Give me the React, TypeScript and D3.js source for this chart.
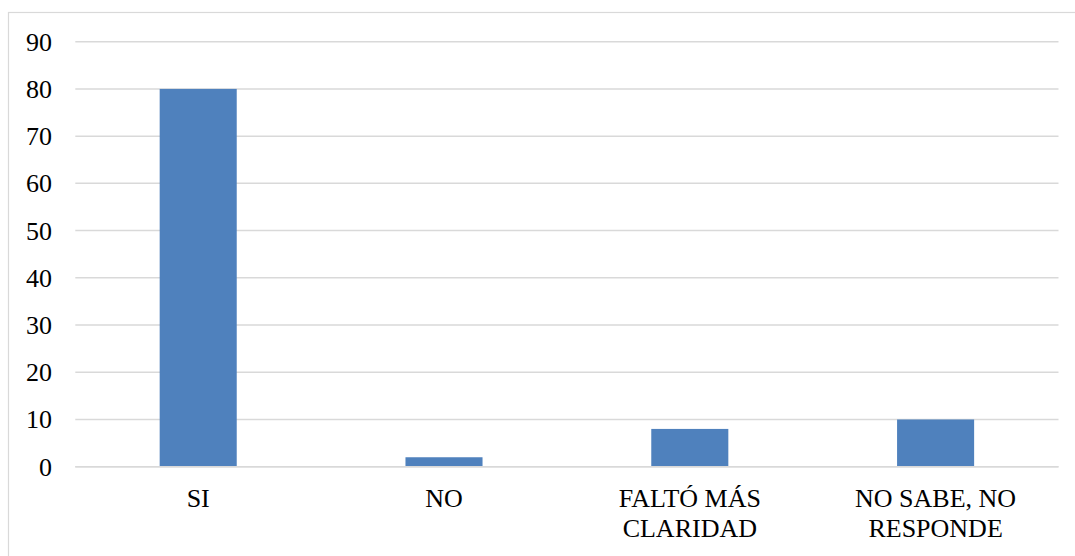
import React from "react";
import * as d3 from "d3";

const categories: string[] = ["SI", "NO", "FALTÓ MÁS CLARIDAD", "NO SABE, NO RESPONDE"];
const values: number[] = [80, 2, 8, 10];
const yTicks: number[] = [0, 10, 20, 30, 40, 50, 60, 70, 80, 90];

const W = 1075;
const H = 556;

function wrap(label: string, maxChars: number): string[] {
  const words = label.split(" ");
  const lines: string[] = [];
  let cur = "";
  words.forEach((w) => {
    const test = cur ? cur + " " + w : w;
    if (test.length > maxChars && cur) {
      lines.push(cur);
      cur = w;
    } else {
      cur = test;
    }
  });
  if (cur) lines.push(cur);
  return lines;
}

export default function App() {
  const left = 75.3;
  const right = 1058.5;
  const top = 41.7;
  const bottom = 466.7;

  const x = d3.scaleBand<string>().domain(categories).range([left, right]).padding(0);
  const y = d3.scaleLinear().domain([0, 90]).range([bottom, top]);
  const bw = x.bandwidth() * 0.3135;

  return (
    <svg width={W} height={H} style={{ position: "absolute", left: 0, top: 0, background: "white" }}>
      <rect x={8.5} y={12.5} width={W + 10} height={H + 10} fill="white" stroke="#D9D9D9" strokeWidth={1.2} />
      {yTicks.map((t) => (
        <line key={"g" + t} x1={left} x2={right} y1={y(t)} y2={y(t)} stroke="#D9D9D9" strokeWidth={1.5} />
      ))}
      {yTicks.map((t) => (
        <text key={"t" + t} x={52} y={y(t) + 9} textAnchor="end" fill="#000" style={{ fontSize: "26px" }}>
          {String(t)}
        </text>
      ))}
      {categories.map((c, i) => (
        <rect
          key={"b" + c}
          x={(x(c) as number) + x.bandwidth() / 2 - bw / 2}
          width={bw}
          y={y(values[i])}
          height={y(0) - y(values[i])}
          fill="#4F81BD"
        />
      ))}
      <line x1={left} x2={right} y1={y(0)} y2={y(0)} stroke="#D9D9D9" strokeWidth={1.5} />
      {categories.map((c) => {
        const cx = (x(c) as number) + x.bandwidth() / 2;
        return (
          <text key={"l" + c} textAnchor="middle" fill="#000" style={{ fontSize: "26px" }}>
            {wrap(c, 12).map((l, j) => (
              <tspan key={j} x={cx} y={507 + j * 29.5}>
                {l}
              </tspan>
            ))}
          </text>
        );
      })}
    </svg>
  );
}
